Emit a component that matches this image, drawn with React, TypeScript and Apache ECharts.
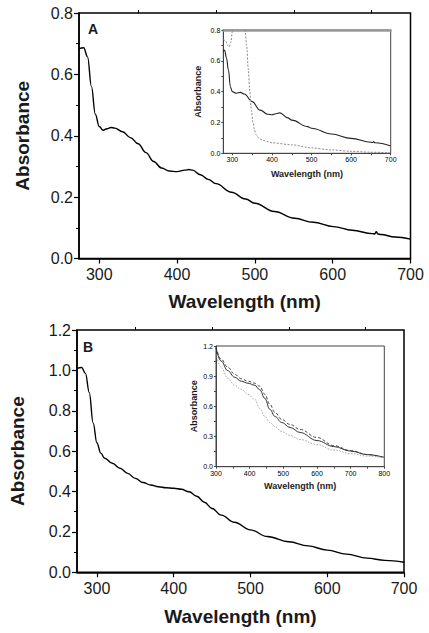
import React, { useEffect, useRef } from "react";
import * as echarts from "echarts";

// ---- Panel A, main spectrum ----
const aMainWl = [274, 280, 285, 290, 295, 300, 305, 310, 315, 320, 330, 340, 350, 360, 370, 380, 390, 400, 410, 415, 420, 430, 440, 450, 470, 488, 500, 525, 551, 575, 601, 625, 651, 654, 656, 658, 662, 680, 700];
const aMainAbs = [0.684, 0.687, 0.657, 0.56, 0.47, 0.43, 0.418, 0.423, 0.427, 0.425, 0.413, 0.394, 0.374, 0.345, 0.316, 0.295, 0.285, 0.283, 0.288, 0.29, 0.288, 0.273, 0.258, 0.244, 0.216, 0.194, 0.18, 0.153, 0.131, 0.118, 0.104, 0.092, 0.081, 0.08, 0.087, 0.08, 0.078, 0.07, 0.063];

// ---- Panel A, inset ----
const aInsetSolidWl = [277, 280, 285, 290, 295, 300, 310, 320, 330, 350, 370, 390, 400, 410, 420, 440, 450, 490, 500, 550, 600, 650, 655, 657, 660, 700];
const aInsetSolidAbs = [0.66, 0.67, 0.62, 0.54, 0.43, 0.40, 0.39, 0.395, 0.385, 0.335, 0.28, 0.253, 0.25, 0.257, 0.262, 0.23, 0.215, 0.173, 0.163, 0.125, 0.097, 0.072, 0.07, 0.076, 0.068, 0.048];
const aInsetDotWl = [277, 283, 288, 292, 296, 300, 305, 315, 325, 332, 336, 340, 344, 348, 352, 356, 360, 368, 377, 390, 400, 450, 500, 550, 600, 650, 700];
const aInsetDotAbs = [0.74, 0.73, 0.70, 0.69, 0.72, 0.79, 0.95, 1.3, 1.1, 0.8, 0.7, 0.55, 0.4, 0.28, 0.2, 0.15, 0.12, 0.095, 0.085, 0.075, 0.068, 0.055, 0.035, 0.022, 0.013, 0.007, 0.003];

// ---- Panel B, main spectrum ----
const bMainWl = [274, 280, 285, 290, 295, 300, 305, 310, 320, 330, 340, 350, 360, 370, 380, 390, 400, 410, 420, 430, 440, 450, 462, 479, 500, 522, 550, 575, 600, 625, 652, 675, 700];
const bMainAbs = [1.01, 1.014, 0.985, 0.89, 0.74, 0.64, 0.59, 0.565, 0.54, 0.515, 0.49, 0.465, 0.445, 0.432, 0.424, 0.419, 0.416, 0.411, 0.399, 0.377, 0.347, 0.316, 0.283, 0.248, 0.21, 0.177, 0.151, 0.131, 0.11, 0.09, 0.07, 0.059, 0.05];

// ---- Panel B, inset ----
const bInsetWl = [300, 315, 335, 355, 375, 395, 415, 430, 445, 460, 475, 495, 520, 550, 600, 650, 700, 750, 800];
const bInsetSolid = [1.18, 1.05, 0.955, 0.89, 0.85, 0.83, 0.81, 0.765, 0.68, 0.57, 0.50, 0.44, 0.39, 0.34, 0.26, 0.20, 0.155, 0.12, 0.093];
const bInsetDash = [1.19, 1.07, 0.99, 0.92, 0.875, 0.85, 0.83, 0.80, 0.72, 0.62, 0.54, 0.47, 0.42, 0.37, 0.29, 0.21, 0.16, 0.12, 0.09];
const bInsetDot = [1.12, 0.99, 0.88, 0.81, 0.77, 0.72, 0.67, 0.58, 0.50, 0.44, 0.40, 0.35, 0.31, 0.27, 0.22, 0.165, 0.13, 0.105, 0.088];

// ---- Tick values ----
const mainXLabels = [300, 400, 500, 600, 700];
const mainXMinor = [350, 450, 550, 650];
const insetAXTicks = [300, 350, 400, 450, 500, 550, 600, 650, 700];

const FONT = "'Liberation Sans', Arial, Helvetica, sans-serif";
const TXT = "#1a1a1a";

const zip = (xs: number[], ys: number[]) => xs.map((x, i) => [x, ys[i]]);

function mainY(max: number, interval: number, gridIndex: number) {
  return {
    type: "value",
    gridIndex,
    min: 0,
    max,
    interval,
    name: "Absorbance",
    nameLocation: "middle",
    nameGap: gridIndex === 0 ? 47 : 50,
    nameTextStyle: { fontFamily: FONT, fontSize: 19, fontWeight: "bold", color: TXT },
    axisLine: { show: true, lineStyle: { color: "#000", width: 1.5 } },
    axisTick: { show: true, length: 5, lineStyle: { color: "#000", width: 1.2 } },
    minorTick: { show: true, splitNumber: 2, length: 3, lineStyle: { color: "#000", width: 1 } },
    splitLine: { show: false },
    axisLabel: { fontFamily: FONT, fontSize: 16, color: TXT, margin: 6, formatter: (v: number) => v.toFixed(1) },
  };
}

function mainX(gridIndex: number, nameGap: number) {
  return {
    type: "value",
    gridIndex,
    min: 274,
    max: 700,
    name: "Wavelength (nm)",
    nameLocation: "middle",
    nameGap,
    nameTextStyle: { fontFamily: FONT, fontSize: 19, fontWeight: "bold", color: TXT },
    axisLine: { show: true, lineStyle: { color: "#000", width: 1.5 } },
    axisTick: { show: true, length: 5, customValues: mainXLabels, lineStyle: { color: "#000", width: 1.2 } },
    splitLine: { show: false },
    axisLabel: { fontFamily: FONT, fontSize: 16, color: TXT, margin: 8, customValues: mainXLabels },
  };
}

function minorX(gridIndex: number) {
  return {
    type: "value",
    gridIndex,
    min: 274,
    max: 700,
    axisLine: { show: false },
    axisTick: { show: true, length: 3, customValues: mainXMinor, lineStyle: { color: "#000", width: 1 } },
    axisLabel: { show: false },
    splitLine: { show: false },
  };
}

export default function App() {
  const ref = useRef<HTMLDivElement>(null);
  useEffect(() => {
    if (!ref.current) return;
    const chart = echarts.init(ref.current, null, { renderer: "svg" });
    const insetTitle = { fontFamily: FONT, fontSize: 9, fontWeight: "bold", color: TXT };
    const insetLbl = { fontFamily: FONT, fontSize: 7, color: "#000" };
    const insetLine = { show: true, lineStyle: { color: "#444", width: 1 } };
    chart.setOption({
      animation: false,
      backgroundColor: "#fff",
      grid: [
        { left: 79, top: 13, width: 331.5, height: 245.5, show: true, borderColor: "#000", borderWidth: 1.5 },
        { left: 223.3, top: 30, width: 167.4, height: 123.3, show: true, borderColor: "#444", borderWidth: 1 },
        { left: 75, top: 330, width: 329, height: 242.3, show: true, borderColor: "#000", borderWidth: 1.5 },
        { left: 216, top: 346, width: 168.3, height: 120.7, show: true, borderColor: "#444", borderWidth: 1 },
      ],
      xAxis: [
        mainX(0, 33),
        minorX(0),
        {
          type: "value",
          gridIndex: 1,
          min: 277,
          max: 700,
          name: "Wavelength (nm)",
          nameLocation: "middle",
          nameGap: 16,
          nameTextStyle: insetTitle,
          axisLine: insetLine,
          axisTick: { show: true, length: 2, customValues: insetAXTicks, lineStyle: { color: "#444" } },
          axisLabel: { ...insetLbl, margin: 3, customValues: mainXLabels },
          splitLine: { show: false },
        },
        {
          type: "value",
          gridIndex: 1,
          position: "top",
          min: 277,
          max: 700,
          axisLine: { show: true, lineStyle: { color: "#9a9a9a", width: 2.5 } },
          axisTick: { show: false },
          axisLabel: { show: false },
          splitLine: { show: false },
        },
        mainX(2, 35),
        minorX(2),
        {
          type: "value",
          gridIndex: 3,
          min: 300,
          max: 800,
          interval: 100,
          name: "Wavelength (nm)",
          nameLocation: "middle",
          nameGap: 15,
          nameTextStyle: insetTitle,
          axisLine: insetLine,
          axisTick: { show: true, length: 2, lineStyle: { color: "#444" } },
          minorTick: { show: true, splitNumber: 2, length: 2, lineStyle: { color: "#444" } },
          axisLabel: { ...insetLbl, margin: 3 },
          splitLine: { show: false },
        },
      ],
      yAxis: [
        mainY(0.8, 0.2, 0),
        {
          type: "value",
          gridIndex: 1,
          min: 0,
          max: 0.8,
          interval: 0.2,
          name: "Absorbance",
          nameLocation: "middle",
          nameGap: 21,
          nameTextStyle: insetTitle,
          axisLine: insetLine,
          axisTick: { show: true, length: 2, lineStyle: { color: "#444" } },
          minorTick: { show: true, splitNumber: 2, length: 2, lineStyle: { color: "#444" } },
          axisLabel: { ...insetLbl, margin: 3, formatter: (v: number) => v.toFixed(1) },
          splitLine: { show: false },
        },
        mainY(1.2, 0.2, 2),
        {
          type: "value",
          gridIndex: 3,
          min: 0,
          max: 1.2,
          interval: 0.3,
          name: "Absorbance",
          nameLocation: "middle",
          nameGap: 18,
          nameTextStyle: insetTitle,
          axisLine: insetLine,
          axisTick: { show: true, length: 2, lineStyle: { color: "#444" } },
          minorTick: { show: true, splitNumber: 2, length: 2, lineStyle: { color: "#444" } },
          axisLabel: { ...insetLbl, margin: 3, formatter: (v: number) => v.toFixed(1) },
          splitLine: { show: false },
        },
      ],
      series: [
        {
          type: "line", xAxisIndex: 0, yAxisIndex: 0, data: zip(aMainWl, aMainAbs),
          showSymbol: false, smooth: 0.4, smoothMonotone: "x", lineStyle: { color: "#000", width: 1.4 },
        },
        {
          type: "line", xAxisIndex: 2, yAxisIndex: 1, data: zip(aInsetSolidWl, aInsetSolidAbs),
          showSymbol: false, smooth: 0.4, smoothMonotone: "x", lineStyle: { color: "#222", width: 1.1 },
        },
        {
          type: "line", xAxisIndex: 2, yAxisIndex: 1, data: zip(aInsetDotWl, aInsetDotAbs), clip: true,
          showSymbol: false, smooth: 0.3, smoothMonotone: "x", lineStyle: { color: "#8a8a8a", width: 1, type: [2, 1.5] },
        },
        {
          type: "line", xAxisIndex: 4, yAxisIndex: 2, data: zip(bMainWl, bMainAbs),
          showSymbol: false, smooth: 0.4, smoothMonotone: "x", lineStyle: { color: "#000", width: 1.4 },
        },
        {
          type: "line", xAxisIndex: 6, yAxisIndex: 3, data: zip(bInsetWl, bInsetSolid),
          showSymbol: false, smooth: 0.4, smoothMonotone: "x", lineStyle: { color: "#333", width: 1 },
        },
        {
          type: "line", xAxisIndex: 6, yAxisIndex: 3, data: zip(bInsetWl, bInsetDash),
          showSymbol: false, smooth: 0.4, smoothMonotone: "x", lineStyle: { color: "#333", width: 0.9, type: [3, 2] },
        },
        {
          type: "line", xAxisIndex: 6, yAxisIndex: 3, data: zip(bInsetWl, bInsetDot),
          showSymbol: false, smooth: 0.4, smoothMonotone: "x", lineStyle: { color: "#9a9a9a", width: 0.9, type: [1.5, 1.5] },
        },
      ],
      graphic: [
        { type: "text", left: 88, top: 22, style: { text: "A", fontFamily: FONT, fontSize: 14, fontWeight: "bold", fill: TXT } },
        { type: "text", left: 83, top: 340, style: { text: "B", fontFamily: FONT, fontSize: 14, fontWeight: "bold", fill: TXT } },
      ],
    });
    return () => chart.dispose();
  }, []);
  return (
    <div
      ref={ref}
      style={{ position: "fixed", left: 0, top: 0, width: 429, height: 633, background: "#fff" }}
    />
  );
}
